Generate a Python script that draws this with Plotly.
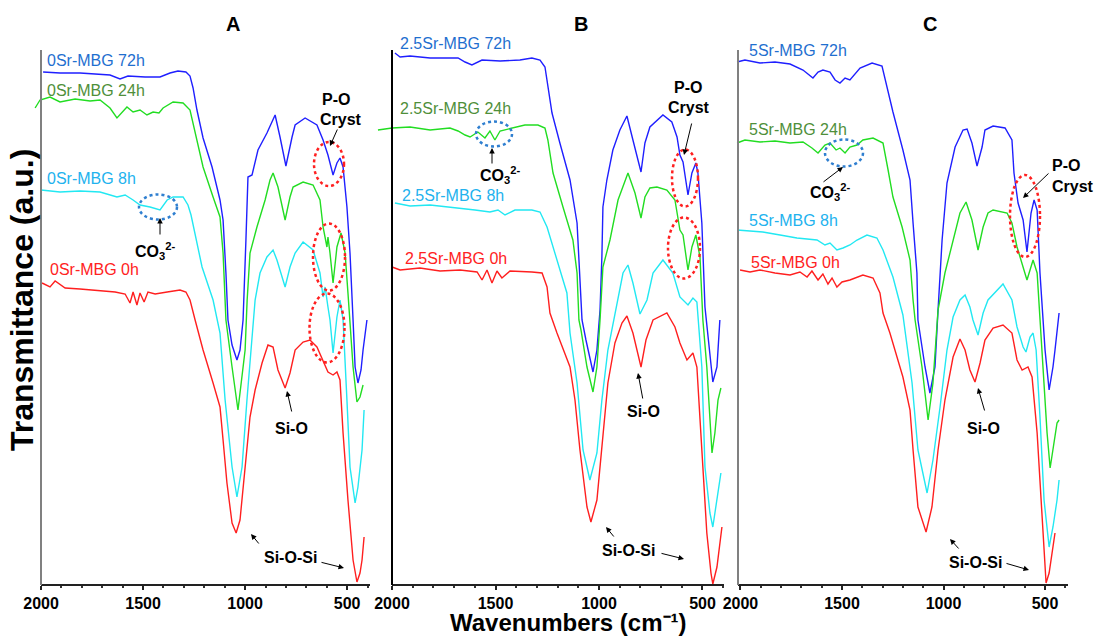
import plotly.graph_objects as go

W, H = 1097, 637

# ---------------- Panel A : 0Sr-MBG ----------------
A72_wn = [1990, 1907, 1809, 1711, 1662, 1613, 1574, 1490, 1417, 1368, 1329, 1290, 1270, 1255, 1236, 1206, 1162, 1123, 1108,
          1094, 1084, 1064, 1040, 1025, 1010, 996, 986, 966, 937, 893, 853, 829, 800, 770, 755, 706, 648, 618, 594, 569,
          550, 535, 520, 501, 486, 471, 461, 447, 432, 422, 403]
A72_T = [513, 512, 512, 511, 510, 506, 509, 508, 508, 512, 514, 513, 509, 497, 475, 447, 418, 385, 365,
         312, 265, 240, 225, 235, 265, 345, 408, 410, 435, 452, 470, 448, 419, 448, 460, 467, 460, 445, 430, 410,
         422, 427, 418, 378, 332, 265, 218, 202, 215, 235, 265]

A24_wn = [2029, 2005, 1956, 1907, 1833, 1760, 1711, 1662, 1628, 1579, 1549, 1515, 1481, 1451, 1422, 1402, 1353, 1304,
          1270, 1236, 1206, 1157, 1123, 1108, 1094, 1064, 1035, 1000, 990, 976, 942, 902, 878, 863, 839, 804, 780,
          765, 716, 667, 633, 618, 608, 599, 594, 584, 569, 550, 530, 510, 496, 486, 471, 452, 437, 422]
A24_T = [477, 485, 488, 483, 486, 484, 485, 477, 467, 478, 473, 475, 470, 473, 472, 477, 483, 482,
         475, 445, 418, 388, 368, 332, 265, 218, 175, 235, 285, 332, 358, 385, 405, 412, 398, 365, 388,
         398, 403, 400, 385, 358, 348, 338, 348, 332, 302, 338, 352, 332, 292, 265, 218, 183, 188, 200]

A8_wn = [2000, 1907, 1809, 1711, 1628, 1588, 1549, 1515, 1466, 1417, 1382, 1353, 1304, 1280, 1265, 1240, 1211, 1157,
         1123, 1098, 1064, 1040, 1015, 991, 966, 951, 927, 893, 863, 844, 804, 780, 755, 716, 667, 633, 618, 608,
         594, 584, 569, 550, 535, 520, 501, 486, 461, 447, 427, 417]
A8_T = [395, 393, 394, 393, 388, 390, 385, 380, 378, 375, 385, 388, 388, 380, 370, 345, 318, 285,
        252, 185, 118, 88, 118, 185, 252, 285, 312, 328, 335, 325, 298, 318, 332, 343, 335, 312, 288, 298,
        278, 265, 232, 268, 285, 265, 185, 118, 82, 98, 135, 175]

A0_wn = [1995, 1956, 1931, 1882, 1809, 1735, 1686, 1637, 1588, 1564, 1549, 1530, 1515, 1495, 1476, 1441, 1382, 1319,
         1290, 1270, 1245, 1206, 1157, 1123, 1108, 1089, 1064, 1044, 1025, 1000, 976, 951, 917, 888, 863, 839, 804,
         780, 755, 716, 682, 648, 618, 594, 569, 550, 535, 520, 496, 471, 452, 437, 427, 417]
A0_T = [302, 298, 304, 297, 296, 295, 294, 293, 291, 282, 293, 280, 292, 283, 293, 291, 293, 295,
        293, 285, 265, 235, 202, 178, 145, 102, 62, 52, 65, 118, 168, 195, 222, 240, 238, 215, 197,
        212, 235, 243, 245, 238, 225, 213, 210, 213, 205, 152, 85, 25, 3, 12, 25, 48]

# ---------------- Panel B : 2.5Sr-MBG ----------------
B72_wn = [1986, 1961, 1913, 1816, 1681, 1647, 1614, 1565, 1478, 1382, 1324, 1285, 1261, 1247, 1227, 1189, 1140, 1106,
          1092, 1082, 1063, 1044, 1029, 1010, 995, 986, 981, 962, 933, 899, 865, 836, 797, 778, 754, 691, 648, 623,
          609, 594, 570, 551, 532, 522, 503, 488, 474, 450, 430, 416]
B72_T = [532, 528, 529, 527, 527, 523, 520, 525, 524, 525, 527, 525, 518, 500, 472, 442, 405, 362,
         312, 265, 245, 227, 213, 235, 275, 328, 378, 405, 435, 455, 469, 445, 413, 442, 458, 470, 463, 448,
         430, 423, 390, 412, 422, 412, 362, 278, 252, 203, 218, 265]

B24_wn = [2068, 2000, 1913, 1816, 1720, 1681, 1647, 1623, 1585, 1551, 1527, 1503, 1478, 1420, 1358, 1295, 1261, 1247,
          1222, 1174, 1126, 1106, 1097, 1087, 1058, 1029, 1010, 995, 981, 947, 908, 860, 826, 797, 778, 754, 720,
          672, 633, 609, 594, 570, 551, 532, 512, 498, 479, 454, 440, 425, 411]
B24_T = [455, 457, 458, 455, 457, 454, 450, 448, 453, 447, 454, 445, 454, 457, 460, 460, 457, 445,
         412, 378, 345, 312, 265, 255, 218, 193, 218, 265, 318, 345, 385, 412, 392, 367, 388, 397, 398,
         395, 385, 355, 350, 315, 338, 350, 328, 265, 218, 132, 152, 185, 197]

B8_wn = [1986, 1913, 1816, 1720, 1599, 1527, 1488, 1454, 1406, 1324, 1285, 1251, 1203, 1155, 1140, 1106, 1077, 1044,
         1010, 986, 957, 923, 884, 860, 836, 802, 768, 739, 691, 643, 609, 570, 546, 527, 503, 488, 464, 450,
         430, 411]
B8_T = [382, 379, 380, 378, 375, 373, 375, 370, 375, 375, 373, 358, 325, 292, 252, 202, 135, 105,
        132, 185, 235, 270, 312, 320, 302, 271, 285, 312, 325, 312, 288, 280, 287, 283, 218, 118, 72, 58,
        85, 112]

B0_wn = [2000, 1961, 1865, 1768, 1671, 1589, 1565, 1541, 1517, 1493, 1469, 1430, 1324, 1275, 1251, 1237, 1203, 1140,
         1116, 1092, 1058, 1039, 1010, 986, 957, 923, 889, 865, 836, 797, 773, 739, 672, 633, 609, 575, 546,
         527, 503, 479, 459, 450, 430, 406]
B0_T = [318, 315, 317, 314, 315, 313, 305, 315, 302, 314, 307, 314, 313, 312, 298, 272, 252, 218,
        185, 135, 78, 63, 85, 135, 202, 242, 262, 269, 252, 218, 245, 265, 272, 258, 242, 225, 232,
        218, 135, 52, 12, 1, 18, 58]

# ---------------- Panel C : 5Sr-MBG ----------------
C72_wn = [2017, 1978, 1904, 1830, 1756, 1692, 1643, 1618, 1594, 1559, 1534, 1510, 1485, 1461, 1411, 1352, 1303, 1278,
          1249, 1200, 1165, 1150, 1131, 1126, 1091, 1067, 1042, 1027, 1007, 983, 943, 904, 884, 860, 835, 810, 796,
          756, 697, 663, 653, 633, 608, 589, 569, 554, 539, 525, 510, 500, 480, 461, 451, 431]
C72_T = [523, 525, 522, 523, 521, 515, 507, 513, 515, 513, 505, 502, 507, 505, 517, 522, 519, 498,
         473, 435, 405, 362, 312, 265, 218, 192, 218, 275, 345, 402, 438, 455, 456, 442, 419, 438, 455,
         459, 457, 445, 412, 382, 365, 333, 372, 385, 375, 312, 265, 235, 195, 218, 235, 272]

C24_wn = [2017, 1978, 1904, 1830, 1756, 1692, 1648, 1618, 1584, 1559, 1529, 1510, 1485, 1461, 1426, 1397, 1347, 1298,
          1273, 1249, 1204, 1165, 1150, 1140, 1106, 1076, 1052, 1027, 993, 953, 919, 889, 860, 830, 805, 781, 756,
          687, 663, 638, 608, 589, 574, 559, 539, 525, 510, 490, 475, 461, 441, 431]
C24_T = [442, 445, 443, 444, 442, 443, 437, 432, 440, 442, 435, 437, 432, 438, 440, 445, 447, 442,
         415, 388, 358, 325, 285, 265, 218, 165, 202, 275, 312, 345, 372, 383, 365, 335, 358, 372, 375,
         372, 362, 338, 318, 305, 315, 325, 312, 265, 218, 152, 117, 135, 162, 165]

C8_wn = [2017, 1890, 1805, 1722, 1623, 1584, 1559, 1525, 1495, 1461, 1426, 1377, 1328, 1298, 1249, 1200, 1155, 1126,
         1081, 1052, 1017, 983, 953, 919, 894, 870, 855, 830, 805, 781, 707, 663, 638, 608, 594, 574, 559, 544,
         525, 505, 480, 461, 441, 431]
C8_T = [355, 353, 350, 347, 345, 340, 342, 335, 337, 340, 345, 350, 347, 335, 308, 270, 202, 135,
        92, 125, 178, 235, 268, 285, 290, 278, 265, 250, 272, 285, 301, 285, 258, 238, 233, 248, 252, 235,
        168, 85, 38, 58, 85, 105]

C0_wn = [2002, 1953, 1904, 1830, 1756, 1707, 1672, 1648, 1618, 1594, 1569, 1549, 1525, 1500, 1461, 1397, 1347, 1313,
         1298, 1264, 1200, 1165, 1150, 1126, 1086, 1057, 1027, 993, 953, 919, 894, 870, 845, 820, 796, 756, 707,
         663, 638, 613, 584, 564, 539, 515, 495, 480, 461, 451]
C0_T = [315, 313, 315, 312, 310, 313, 308, 314, 305, 311, 301, 307, 298, 303, 305, 310, 307, 292,
        272, 252, 208, 175, 135, 78, 53, 78, 135, 185, 228, 246, 235, 215, 203, 222, 245, 257, 260,
        252, 225, 215, 218, 208, 152, 68, 2, 12, 42, 52]

TIMES = ["72h", "24h", "8h", "0h"]
LINE_COLORS = ["#1f1fff", "#22dd22", "#22e8f2", "#ff1f1f"]
LABEL_COLORS = ["#1f6fcf", "#4f8f3a", "#22b2ee", "#ff2222"]
PREFIX = ["0Sr-MBG", "2.5Sr-MBG", "5Sr-MBG"]

panels = [
    dict(data=[(A72_wn, A72_T), (A24_wn, A24_T), (A8_wn, A8_T), (A0_wn, A0_T)],
         xr=[2035, 388], dom=(33.9, 370), axis_px=(41, 370), ycol="#808080"),
    dict(data=[(B72_wn, B72_T), (B24_wn, B24_T), (B8_wn, B8_T), (B0_wn, B0_T)],
         xr=[2075, 396], dom=(376.5, 724), axis_px=(392, 724), ycol="#000000"),
    dict(data=[(C72_wn, C72_T), (C24_wn, C24_T), (C8_wn, C8_T), (C0_wn, C0_T)],
         xr=[2020, 387], dom=(736.4, 1068), axis_px=(738, 1068), ycol="#808080"),
]

Y_BOTTOM, Y_TOP = 585, 52


def px(x):
    return x / W


def py(y):
    return 1 - y / H


fig = go.Figure()
FONT = "Liberation Sans, Arial, sans-serif"
layout = dict(width=W, height=H, autosize=False, margin=dict(l=0, r=0, t=0, b=0, pad=0),
              paper_bgcolor="white", plot_bgcolor="white", showlegend=False,
              font=dict(family=FONT, color="black"))
shapes = []
annotations = []

for i, p in enumerate(panels):
    sfx = "" if i == 0 else str(i + 1)
    for (wn, t), col in zip(p["data"], LINE_COLORS):
        fig.add_trace(go.Scatter(x=wn, y=t, mode="lines", line=dict(color=col, width=1.4),
                                 xaxis="x" + sfx, yaxis="y" + sfx, hoverinfo="skip"))
    layout["xaxis" + sfx] = dict(domain=[px(p["dom"][0]), px(p["dom"][1])], range=p["xr"], anchor="y" + sfx,
                                 automargin=False, showgrid=False, zeroline=False, showline=False,
                                 tickmode="linear", tick0=0, dtick=500, ticks="outside", ticklen=4,
                                 tickwidth=1.5, tickcolor="#222",
                                 minor=dict(tickmode="linear", tick0=0, dtick=100, ticks="outside", ticklen=2,
                                            tickcolor="#333", tickwidth=1.5),
                                 tickfont=dict(family=FONT, size=16, color="black", weight="bold"))
    layout["yaxis" + sfx] = dict(domain=[py(Y_BOTTOM), py(Y_TOP)], range=[0, 533], anchor="x" + sfx,
                                 automargin=False, showgrid=False, zeroline=False, showline=False,
                                 showticklabels=False, ticks="")
    x0, x1 = p["axis_px"]
    shapes.append(dict(type="line", xref="paper", yref="paper", x0=px(x0), x1=px(x1), y0=py(Y_BOTTOM),
                       y1=py(Y_BOTTOM), line=dict(color="#222", width=2)))
    shapes.append(dict(type="line", xref="paper", yref="paper", x0=px(x0), x1=px(x0), y0=py(Y_BOTTOM),
                       y1=py(Y_TOP - 2), line=dict(color=p["ycol"], width=2)))

# series labels
label_pos = [
    [(45, 61), (45, 91), (45, 179), (48, 269)],
    [(398, 43), (398, 108), (400, 195), (403, 258)],
    [(747, 51), (747, 129), (747, 221), (749, 262)],
]
for i, pos in enumerate(label_pos):
    for (x, y), tm, c in zip(pos, TIMES, LABEL_COLORS):
        annotations.append(dict(text=f"{PREFIX[i]} {tm}", x=px(x), y=py(y), xref="paper", yref="paper",
                                xanchor="left", yanchor="middle", showarrow=False,
                                font=dict(family=FONT, size=16, color=c)))


def txt(s, x, y, size=16, bold=True):
    annotations.append(dict(text=s, x=px(x), y=py(y), xref="paper", yref="paper", xanchor="center",
                            yanchor="middle", showarrow=False,
                            font=dict(family=FONT, size=size, color="black", weight="bold" if bold else "normal")))


def arrow(tail, head):
    annotations.append(dict(text="", x=px(head[0]), y=py(head[1]), xref="paper", yref="paper",
                            ax=tail[0] - head[0], ay=tail[1] - head[1], showarrow=True,
                            arrowhead=2, arrowsize=1.1, arrowwidth=1, arrowcolor="black"))


def ell(cx, cy, w, h, color):
    shapes.append(dict(type="circle", xref="paper", yref="paper", x0=px(cx - w / 2), x1=px(cx + w / 2),
                       y0=py(cy + h / 2), y1=py(cy - h / 2), line=dict(color=color, width=2.5, dash="dot")))


RED, BLUE = "#ff2020", "#2f7fd0"
CO3 = "CO<sub>3</sub><sup>2-</sup>"

# Panel titles
txt("A", 233, 24, 20)
txt("B", 581, 24, 20)
txt("C", 930, 24, 20)

# Panel A annotations
txt("P-O", 336, 99)
txt("Cryst", 341, 119)
arrow((338, 128), (330, 146))
ell(329, 164, 30, 44, RED)
ell(329, 257, 32, 67, RED)
ell(327, 328, 35, 69, RED)
ell(158, 207, 38, 25, BLUE)
arrow((160, 236), (160, 218))
txt(CO3, 155, 251)
txt("Si-O", 291, 428)
arrow((292, 413), (287, 391))
txt("Si-O-Si", 290, 557)
arrow((260, 545), (251, 534))
arrow((320, 562), (344, 568))

# Panel B annotations
txt("P-O", 688, 87)
txt("Cryst", 689, 107)
arrow((692, 122), (684, 155))
ell(685, 178, 26, 57, RED)
ell(684, 248, 32, 61, RED)
ell(494, 134, 36, 25, BLUE)
arrow((492, 165), (492, 148))
txt(CO3, 500, 175)
txt("Si-O", 643, 411)
arrow((643, 400), (638, 373))
txt("Si-O-Si", 628, 550)
arrow((615, 538), (606, 527))
arrow((660, 553), (684, 559))

# Panel C annotations
txt("P-O", 1066, 166)
txt("Cryst", 1073, 186)
arrow((1050, 172), (1023, 198))
ell(1025, 216, 30, 82, RED)
ell(844, 153, 38, 27, BLUE)
arrow((822, 183), (843, 167))
txt(CO3, 830, 192)
txt("Si-O", 983, 428)
arrow((985, 412), (978, 388))
txt("Si-O-Si", 975, 562)
arrow((960, 550), (950, 539))
arrow((1005, 563), (1029, 570))

# Axis titles
annotations.append(dict(text="Wavenumbers (cm\u207b\u00b9)", x=px(568), y=py(622), xref="paper", yref="paper",
                        xanchor="center", yanchor="middle", showarrow=False,
                        font=dict(family=FONT, size=24, color="black", weight="bold")))
annotations.append(dict(text="Transmittance (a.u.)", x=px(22), y=py(300), xref="paper", yref="paper",
                        xanchor="center", yanchor="middle", showarrow=False, textangle=-90,
                        font=dict(family=FONT, size=32, color="black", weight="bold")))

layout["shapes"] = shapes
layout["annotations"] = annotations
fig.update_layout(**layout)
fig.write_html("out.html", config={"displayModeBar": False},
               post_script="document.body.style.margin='0';document.body.style.padding='0';"
                           "document.body.style.overflow='hidden';")
